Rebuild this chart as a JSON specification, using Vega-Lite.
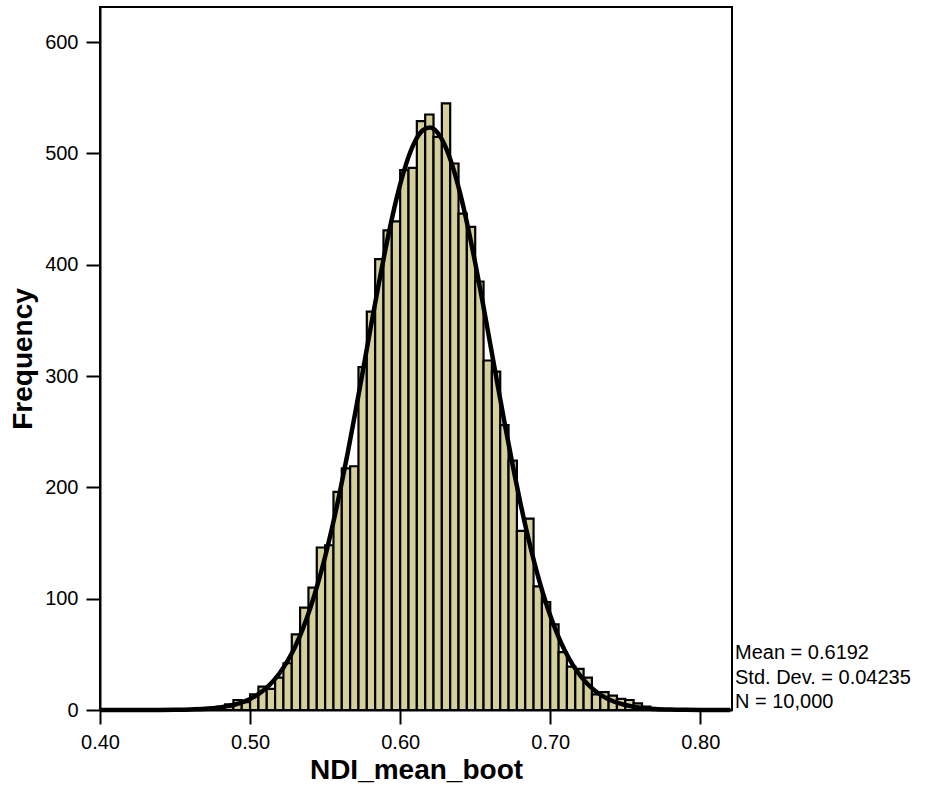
{
  "$schema": "https://vega.github.io/schema/vega-lite/v6.json",
  "autosize": {"type": "none"},
  "padding": {"left": 100, "top": 7, "right": 197, "bottom": 90},
  "width": 632,
  "height": 703,
  "background": "white",
  "config": {
    "view": {"stroke": "black", "strokeWidth": 2},
    "font": "Liberation Sans",
    "axis": {
      "grid": false,
      "domainColor": "black",
      "domainWidth": 2,
      "tickColor": "black",
      "tickWidth": 2,
      "tickSize": 14,
      "labelFont": "Liberation Sans",
      "labelFontSize": 20,
      "labelColor": "black",
      "labelPadding": 8,
      "labelFlush": false,
      "titleFont": "Liberation Sans",
      "titleFontSize": 28,
      "titleFontWeight": "bold",
      "titleColor": "black"
    }
  },
  "datasets": {
    "bins": [
      {"start": 0.46667, "end": 0.47222, "count": 1},
      {"start": 0.47222, "end": 0.47778, "count": 2},
      {"start": 0.47778, "end": 0.48333, "count": 3},
      {"start": 0.48333, "end": 0.48889, "count": 5},
      {"start": 0.48889, "end": 0.49444, "count": 9},
      {"start": 0.49444, "end": 0.5, "count": 7},
      {"start": 0.5, "end": 0.50556, "count": 14},
      {"start": 0.50556, "end": 0.51111, "count": 21},
      {"start": 0.51111, "end": 0.51667, "count": 19},
      {"start": 0.51667, "end": 0.52222, "count": 29},
      {"start": 0.52222, "end": 0.52778, "count": 42},
      {"start": 0.52778, "end": 0.53333, "count": 68},
      {"start": 0.53333, "end": 0.53889, "count": 92},
      {"start": 0.53889, "end": 0.54444, "count": 110},
      {"start": 0.54444, "end": 0.55, "count": 146},
      {"start": 0.55, "end": 0.55556, "count": 148},
      {"start": 0.55556, "end": 0.56111, "count": 196},
      {"start": 0.56111, "end": 0.56667, "count": 217},
      {"start": 0.56667, "end": 0.57222, "count": 219},
      {"start": 0.57222, "end": 0.57778, "count": 308},
      {"start": 0.57778, "end": 0.58333, "count": 358},
      {"start": 0.58333, "end": 0.58889, "count": 405},
      {"start": 0.58889, "end": 0.59444, "count": 431},
      {"start": 0.59444, "end": 0.6, "count": 439},
      {"start": 0.6, "end": 0.60556, "count": 485},
      {"start": 0.60556, "end": 0.61111, "count": 487},
      {"start": 0.61111, "end": 0.61667, "count": 529},
      {"start": 0.61667, "end": 0.62222, "count": 535},
      {"start": 0.62222, "end": 0.62778, "count": 515},
      {"start": 0.62778, "end": 0.63333, "count": 545},
      {"start": 0.63333, "end": 0.63889, "count": 491},
      {"start": 0.63889, "end": 0.64444, "count": 446},
      {"start": 0.64444, "end": 0.65, "count": 434},
      {"start": 0.65, "end": 0.65556, "count": 385},
      {"start": 0.65556, "end": 0.66111, "count": 314},
      {"start": 0.66111, "end": 0.66667, "count": 304},
      {"start": 0.66667, "end": 0.67222, "count": 256},
      {"start": 0.67222, "end": 0.67778, "count": 224},
      {"start": 0.67778, "end": 0.68333, "count": 161},
      {"start": 0.68333, "end": 0.68889, "count": 172},
      {"start": 0.68889, "end": 0.69444, "count": 111},
      {"start": 0.69444, "end": 0.7, "count": 97},
      {"start": 0.7, "end": 0.70556, "count": 77},
      {"start": 0.70556, "end": 0.71111, "count": 52},
      {"start": 0.71111, "end": 0.71667, "count": 39},
      {"start": 0.71667, "end": 0.72222, "count": 37},
      {"start": 0.72222, "end": 0.72778, "count": 29},
      {"start": 0.72778, "end": 0.73333, "count": 14},
      {"start": 0.73333, "end": 0.73889, "count": 16},
      {"start": 0.73889, "end": 0.74444, "count": 13},
      {"start": 0.74444, "end": 0.75, "count": 10},
      {"start": 0.75, "end": 0.75556, "count": 9},
      {"start": 0.75556, "end": 0.76111, "count": 6},
      {"start": 0.76111, "end": 0.76667, "count": 3},
      {"start": 0.76667, "end": 0.77222, "count": 1}
    ],
    "curve": [
      {"v": 0.40, "f": 0.0},
      {"v": 0.42, "f": 0.01},
      {"v": 0.44, "f": 0.07},
      {"v": 0.45, "f": 0.18},
      {"v": 0.46, "f": 0.45},
      {"v": 0.47, "f": 1.06},
      {"v": 0.475, "f": 1.59},
      {"v": 0.48, "f": 2.36},
      {"v": 0.485, "f": 3.45},
      {"v": 0.49, "f": 4.98},
      {"v": 0.495, "f": 7.09},
      {"v": 0.50, "f": 9.96},
      {"v": 0.505, "f": 13.8},
      {"v": 0.51, "f": 18.8},
      {"v": 0.515, "f": 25.4},
      {"v": 0.52, "f": 33.7},
      {"v": 0.525, "f": 44.1},
      {"v": 0.53, "f": 56.9},
      {"v": 0.535, "f": 72.5},
      {"v": 0.54, "f": 91.1},
      {"v": 0.545, "f": 112.8},
      {"v": 0.55, "f": 137.7},
      {"v": 0.555, "f": 165.9},
      {"v": 0.56, "f": 197.0},
      {"v": 0.565, "f": 230.7},
      {"v": 0.57, "f": 266.5},
      {"v": 0.575, "f": 303.5},
      {"v": 0.58, "f": 341.0},
      {"v": 0.585, "f": 377.7},
      {"v": 0.59, "f": 412.6},
      {"v": 0.595, "f": 444.5},
      {"v": 0.60, "f": 472.2},
      {"v": 0.605, "f": 494.7},
      {"v": 0.61, "f": 511.2},
      {"v": 0.615, "f": 520.8},
      {"v": 0.62, "f": 523.3},
      {"v": 0.625, "f": 518.5},
      {"v": 0.63, "f": 506.6},
      {"v": 0.635, "f": 488.2},
      {"v": 0.64, "f": 463.9},
      {"v": 0.645, "f": 434.7},
      {"v": 0.65, "f": 401.7},
      {"v": 0.655, "f": 366.1},
      {"v": 0.66, "f": 329.0},
      {"v": 0.665, "f": 291.6},
      {"v": 0.67, "f": 254.9},
      {"v": 0.675, "f": 219.7},
      {"v": 0.68, "f": 186.7},
      {"v": 0.685, "f": 156.5},
      {"v": 0.69, "f": 129.4},
      {"v": 0.695, "f": 105.5},
      {"v": 0.70, "f": 84.8},
      {"v": 0.705, "f": 67.2},
      {"v": 0.71, "f": 52.5},
      {"v": 0.715, "f": 40.5},
      {"v": 0.72, "f": 30.8},
      {"v": 0.725, "f": 23.1},
      {"v": 0.73, "f": 17.1},
      {"v": 0.735, "f": 12.5},
      {"v": 0.74, "f": 8.95},
      {"v": 0.745, "f": 6.34},
      {"v": 0.75, "f": 4.44},
      {"v": 0.755, "f": 3.06},
      {"v": 0.76, "f": 2.08},
      {"v": 0.77, "f": 0.92},
      {"v": 0.78, "f": 0.39},
      {"v": 0.79, "f": 0.15},
      {"v": 0.80, "f": 0.05},
      {"v": 0.82, "f": 0.0}
    ]
  },
  "layer": [
    {
      "data": {"name": "bins"},
      "mark": {"type": "rect", "fill": "#d4cf9b", "stroke": "black", "strokeWidth": 2.2},
      "encoding": {
        "x": {
          "field": "start",
          "type": "quantitative",
          "scale": {"domain": [0.40, 0.8211], "nice": false, "zero": false},
          "axis": {
            "values": [0.4, 0.5, 0.6, 0.7, 0.8],
            "format": ".2f",
            "title": "NDI_mean_boot",
            "titlePadding": 4
          }
        },
        "x2": {"field": "end"},
        "y": {
          "field": "count",
          "type": "quantitative",
          "scale": {"domain": [0, 631.6], "nice": false},
          "axis": {
            "values": [0, 100, 200, 300, 400, 500, 600],
            "format": "d",
            "title": "Frequency",
            "titlePadding": 7
          }
        },
        "y2": {"datum": 0}
      }
    },
    {
      "data": {"name": "curve"},
      "mark": {"type": "line", "color": "black", "strokeWidth": 4.5, "interpolate": "monotone"},
      "encoding": {
        "x": {"field": "v", "type": "quantitative"},
        "y": {"field": "f", "type": "quantitative"}
      }
    },
    {
      "data": {"values": [{"label": "stats"}]},
      "mark": {
        "type": "text",
        "text": ["Mean = 0.6192", "Std. Dev. = 0.04235", "N = 10,000"],
        "align": "left",
        "baseline": "alphabetic",
        "dx": 3,
        "fontSize": 20,
        "lineHeight": 24.5,
        "font": "Liberation Sans",
        "color": "black"
      },
      "encoding": {
        "x": {"datum": 0.8211},
        "y": {"datum": 45.8}
      }
    }
  ]
}
